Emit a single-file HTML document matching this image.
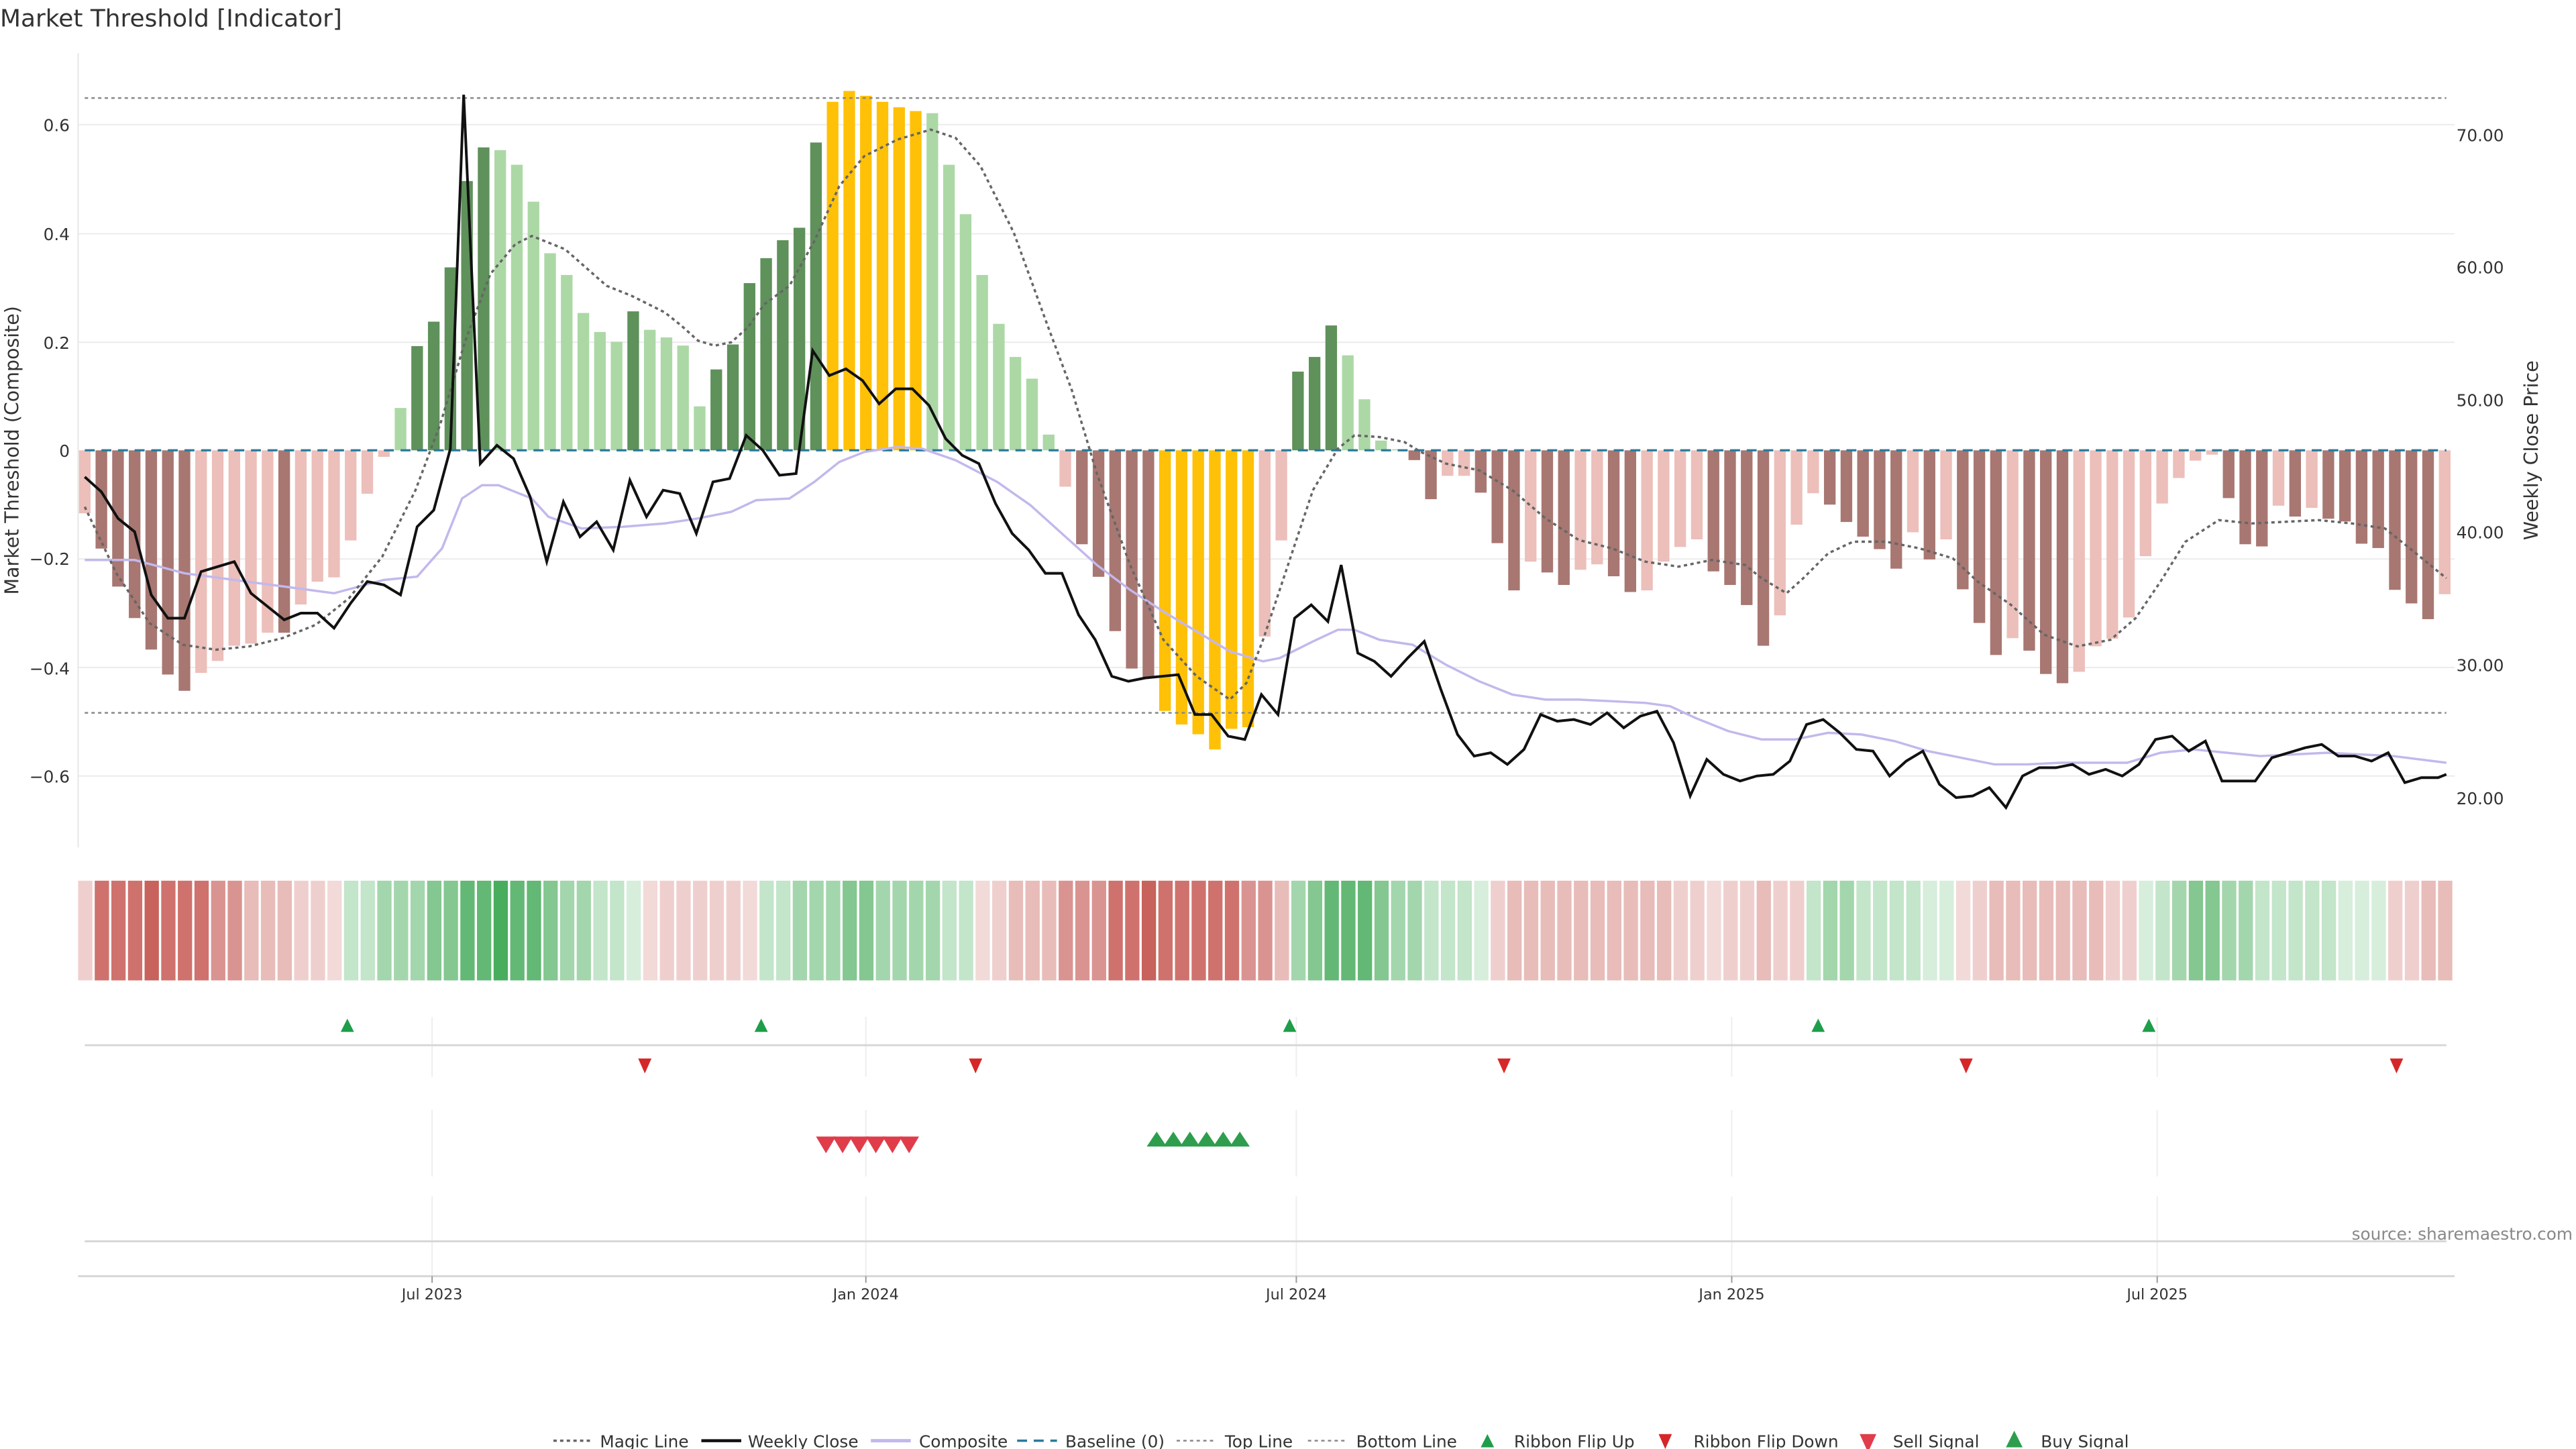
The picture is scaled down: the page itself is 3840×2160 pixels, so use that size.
<!DOCTYPE html>
<html><head><meta charset="utf-8"><style>
html,body{margin:0;padding:0;background:#fff;}
svg{display:block;font-family:"DejaVu Sans","Liberation Sans",sans-serif;}
</style></head><body>
<svg id="s" width="3840" height="2160" viewBox="0 0 1550 872" preserveAspectRatio="none" xmlns="http://www.w3.org/2000/svg">
<rect width="1550" height="872" fill="#fff"/>
<text x="0" y="16" font-size="14.5" fill="#333">Market Threshold [Indicator]</text>
<g id="grid" stroke="#ececec" stroke-width="0.8">
<line x1="47" x2="1477" y1="75" y2="75"/><line x1="47" x2="1477" y1="140.7" y2="140.7"/>
<line x1="47" x2="1477" y1="206" y2="206"/><line x1="47" x2="1477" y1="336.4" y2="336.4"/>
<line x1="47" x2="1477" y1="401.7" y2="401.7"/><line x1="47" x2="1477" y1="467" y2="467"/>
</g>
<line x1="47" x2="47" y1="32" y2="510" stroke="#e6e6e6" stroke-width="0.8"/>
<g font-size="10" fill="#333" text-anchor="end">
<text x="42" y="79">0.6</text><text x="42" y="144.5">0.4</text><text x="42" y="210">0.2</text>
<text x="42" y="275">0</text><text x="42" y="340">−0.2</text><text x="42" y="406">−0.4</text><text x="42" y="471">−0.6</text>
</g>
<g font-size="10" fill="#333">
<text x="1478" y="85">70.00</text><text x="1478" y="164.5">60.00</text><text x="1478" y="244.5">50.00</text>
<text x="1478" y="324">40.00</text><text x="1478" y="404">30.00</text><text x="1478" y="484">20.00</text>
</g>
<text transform="translate(11,271) rotate(-90)" font-size="11.5" fill="#333" text-anchor="middle">Market Threshold (Composite)</text>
<text transform="translate(1527,271) rotate(-90)" font-size="11.5" fill="#333" text-anchor="middle">Weekly Close Price</text>
<g id="bars"></g>
<line x1="51" x2="1472" y1="59" y2="59" stroke="#888" stroke-width="1" stroke-dasharray="2,2"/>
<line x1="51" x2="1472" y1="429" y2="429" stroke="#888" stroke-width="1" stroke-dasharray="2,2"/>
<line x1="51" x2="1472" y1="271" y2="271" stroke="#2b7a99" stroke-width="1.3" stroke-dasharray="6,4"/>
<polyline id="comp" fill="none" stroke="#c3b8ec" stroke-width="1.4"/>
<polyline id="magic" fill="none" stroke="#666" stroke-width="1.4" stroke-dasharray="2,2"/>
<polyline id="close" fill="none" stroke="#111" stroke-width="1.6"/>
<g id="rib"></g>
<g stroke="#eee" stroke-width="0.8">
<line x1="260" x2="260" y1="612" y2="648"/><line x1="521" x2="521" y1="612" y2="648"/><line x1="780" x2="780" y1="612" y2="648"/><line x1="1042" x2="1042" y1="612" y2="648"/><line x1="1298" x2="1298" y1="612" y2="648"/>
<line x1="260" x2="260" y1="668" y2="708"/><line x1="521" x2="521" y1="668" y2="708"/><line x1="780" x2="780" y1="668" y2="708"/><line x1="1042" x2="1042" y1="668" y2="708"/><line x1="1298" x2="1298" y1="668" y2="708"/>
<line x1="260" x2="260" y1="720" y2="768"/><line x1="521" x2="521" y1="720" y2="768"/><line x1="780" x2="780" y1="720" y2="768"/><line x1="1042" x2="1042" y1="720" y2="768"/><line x1="1298" x2="1298" y1="720" y2="768"/>
</g>
<line x1="51" x2="1472" y1="629" y2="629" stroke="#d6d6d6" stroke-width="1.2"/>
<line x1="51" x2="1472" y1="747" y2="747" stroke="#d6d6d6" stroke-width="1.2"/>
<line x1="47" x2="1477" y1="768" y2="768" stroke="#d6d6d6" stroke-width="1.2"/>
<g stroke="#999" stroke-width="0.8">
<line x1="260" x2="260" y1="768" y2="772"/><line x1="521" x2="521" y1="768" y2="772"/><line x1="780" x2="780" y1="768" y2="772"/><line x1="1042" x2="1042" y1="768" y2="772"/><line x1="1298" x2="1298" y1="768" y2="772"/></g>
<g font-size="9" fill="#333" text-anchor="middle">
<text x="260" y="782">Jul 2023</text><text x="521" y="782">Jan 2024</text><text x="780" y="782">Jul 2024</text><text x="1042" y="782">Jan 2025</text><text x="1298" y="782">Jul 2025</text></g>
<g id="sig"></g>
<text x="1548" y="746" font-size="10" fill="#888" text-anchor="end">source: sharemaestro.com</text>
<g font-size="10" fill="#333">
<line x1="333" x2="357" y1="867" y2="867" stroke="#666" stroke-width="1.4" stroke-dasharray="2,2"/><text x="361" y="871">Magic Line</text>
<line x1="422" x2="446" y1="867" y2="867" stroke="#111" stroke-width="1.8"/><text x="450" y="871">Weekly Close</text>
<line x1="524" x2="548" y1="867" y2="867" stroke="#c3b8ec" stroke-width="2"/><text x="553" y="871">Composite</text>
<line x1="612" x2="636" y1="867" y2="867" stroke="#2b7a99" stroke-width="1.4" stroke-dasharray="6,4"/><text x="641" y="871">Baseline (0)</text>
<line x1="708" x2="732" y1="867" y2="867" stroke="#888" stroke-width="1" stroke-dasharray="2,2"/><text x="737" y="871">Top Line</text>
<line x1="787" x2="811" y1="867" y2="867" stroke="#888" stroke-width="1" stroke-dasharray="2,2"/><text x="816" y="871">Bottom Line</text>
<polygon points="891,871 899,871 895,863" fill="#1e9e4a"/><text x="911" y="871">Ribbon Flip Up</text>
<polygon points="998,863 1006,863 1002,872" fill="#d62728"/><text x="1019" y="871">Ribbon Flip Down</text>
<polygon points="1119,863 1129,863 1124,874" fill="#e03c4a"/><text x="1139" y="871">Sell Signal</text>
<polygon points="1207,871 1217,871 1212,861" fill="#2e9e4e"/><text x="1228" y="871">Buy Signal</text>
</g>
</svg>
<script>
var NS="http://www.w3.org/2000/svg";
function el(p,t,a){var e=document.createElementNS(NS,t);for(var k in a)e.setAttribute(k,a[k]);p.appendChild(e);return e;}
var B="L-0.116 D-0.181 D-0.251 D-0.309 D-0.367 D-0.413 D-0.443 L-0.41 L-0.388 L-0.36 L-0.356 L-0.336 D-0.336 L-0.284 L-0.242 L-0.234 L-0.166 L-0.08 L-0.012 g0.078 G0.192 G0.237 G0.337 G0.496 G0.558 g0.553 g0.526 g0.458 g0.363 g0.323 g0.253 g0.218 g0.2 G0.256 g0.222 g0.208 g0.193 g0.081 G0.149 G0.195 G0.308 G0.354 G0.387 G0.41 G0.567 Y0.642 Y0.662 Y0.653 Y0.642 Y0.632 Y0.625 g0.621 g0.526 g0.435 g0.323 g0.233 g0.172 g0.132 g0.029 L-0.067 D-0.173 D-0.233 D-0.333 D-0.402 D-0.418 Y-0.48 Y-0.505 Y-0.523 Y-0.551 Y-0.513 Y-0.51 L-0.343 L-0.166 G0.145 G0.172 G0.23 g0.175 g0.094 g0.018 g0.002 D-0.018 D-0.09 L-0.047 L-0.047 D-0.078 D-0.171 D-0.258 L-0.205 D-0.225 D-0.248 L-0.22 L-0.21 D-0.232 D-0.261 L-0.258 L-0.205 L-0.178 L-0.164 D-0.223 D-0.248 D-0.285 D-0.36 L-0.304 L-0.137 L-0.079 D-0.1 D-0.132 D-0.159 D-0.182 D-0.218 L-0.151 D-0.201 L-0.164 D-0.256 D-0.318 D-0.377 L-0.346 D-0.369 D-0.412 D-0.429 L-0.408 L-0.361 L-0.347 L-0.308 L-0.195 L-0.098 L-0.051 L-0.019 L-0.008 D-0.088 D-0.173 D-0.177 L-0.102 D-0.122 L-0.106 D-0.126 D-0.131 D-0.172 D-0.18 D-0.257 D-0.282 D-0.311 L-0.265".split(" ");
var C={L:"#ecbfba",D:"#a87772",g:"#acd8a6",G:"#5f915b",Y:"#ffc107"};
var bars=document.getElementById("bars");
B.forEach(function(s,i){var c=s[0],v=parseFloat(s.slice(1));var x=51+10*i-3.5;var y0=271,y1=271-v*326.7;
el(bars,"rect",{x:x,y:Math.min(y0,y1),width:7,height:Math.max(0.3,Math.abs(y1-y0)),fill:C[c]});});
var R="r1 r4 r4 r4 r5 r4 r4 r4 r3 r3 r2 r2 r2 r1 r1 r0 g1 g1 g2 g2 g2 g3 g3 g4 g4 g5 g4 g4 g3 g2 g2 g1 g1 g0 r0 r1 r1 r1 r1 r1 r0 g1 g1 g2 g2 g2 g3 g3 g2 g2 g2 g2 g1 g1 r0 r1 r2 r2 r2 r3 r3 r3 r4 r4 r5 r4 r4 r4 r4 r4 r3 r3 r2 g2 g3 g4 g4 g4 g3 g2 g2 g1 g1 g1 g0 r1 r2 r2 r2 r2 r2 r2 r2 r2 r2 r2 r1 r1 r0 r1 r1 r2 r1 r1 g1 g2 g2 g1 g1 g1 g1 g0 g0 r0 r1 r2 r2 r2 r2 r2 r2 r2 r1 r1 g0 g1 g2 g3 g3 g2 g2 g1 g1 g1 g1 g1 g0 g0 g0 r1 r1 r2 r2".split(" ");
var RC={r0:"#f2dad9",r1:"#efcfcd",r2:"#e8bcb9",r3:"#d99491",r4:"#cf726d",r5:"#c8625c",g0:"#d6eedb",g1:"#c3e5ca",g2:"#a3d6ac",g3:"#84c791",g4:"#62b874",g5:"#49ad5e"};
var rib=document.getElementById("rib");
for(var i=0;i<143;i++){el(rib,"rect",{x:47+10*i,y:530,width:8.6,height:60,fill:RC[R[i]]||"#eee"});}
function pl(id,s){document.getElementById(id).setAttribute("points",s);}
pl("close","51,287 61,296 71,312 81,320 91,358 101,372 111,372 121,344 131,341 141,338 151,357 161,365 171,373 181,369 191,369 201,378 211,363 221,350 231,352 241,358 251,317 261,307 271,270 279,57 289,279 299,268 309,276 319,299 329,338 339,302 349,323 359,314 369,331 379,289 389,311 399,295 409,297 419,321 429,290 439,288 449,262 459,271 469,286 479,285 489,211 499,226 509,222 519,229 529,243 539,234 549,234 559,244 569,264 579,274 589,279 599,303 609,321 619,331 629,345 639,345 649,370 659,385 669,407 679,410 689,408 699,407 709,406 719,430 729,430 739,443 749,445 759,418 769,430 779,372 789,364 799,374 807,340 817,393 827,398 837,407 847,396 857,386 867,415 877,442 887,455 897,453 907,460 917,451 927,430 937,434 947,433 957,436 967,429 977,438 987,431 997,428 1007,447 1017,479 1027,457 1037,466 1047,470 1057,467 1067,466 1077,458 1087,436 1097,433 1107,441 1117,451 1127,452 1137,467 1147,458 1157,452 1167,472 1177,480 1187,479 1197,474 1207,486 1217,467 1227,462 1237,462 1247,460 1257,466 1267,463 1277,467 1287,460 1297,445 1307,443 1317,452 1327,446 1337,470 1347,470 1357,470 1367,456 1377,453 1387,450 1397,448 1407,455 1417,455 1427,458 1437,453 1447,471 1457,468 1467,468 1472,466");
pl("comp","51,337 81,337 111,345 141,349 171,353 201,357 231,349 251,347 266,330 278,300 290,292 300,292 320,300 330,311 350,318 375,317 400,315 420,312 440,308 455,301 475,300 490,290 505,278 520,272 540,269 555,270 575,277 600,290 620,304 640,322 660,340 680,355 700,368 720,380 740,392 760,398 770,396 790,386 805,379 815,379 830,385 850,388 870,400 890,410 910,418 930,421 950,421 970,422 990,423 1005,425 1020,432 1040,440 1060,445 1080,445 1100,441 1120,442 1140,446 1160,452 1180,456 1200,460 1220,460 1240,459 1260,459 1280,459 1300,453 1320,451 1340,453 1360,455 1380,454 1400,453 1420,454 1440,455 1472,459");
pl("magic","51,305 70,345 90,375 110,388 130,391 150,389 170,384 190,376 210,360 230,335 250,295 265,255 280,205 295,165 310,147 320,142 340,150 365,172 380,178 400,188 410,196 420,205 430,208 440,206 450,197 460,183 475,172 490,145 505,112 520,94 540,84 560,78 575,83 590,100 610,140 630,195 645,235 660,285 680,340 700,385 720,407 740,421 750,411 760,385 775,340 790,295 805,270 815,262 830,263 845,266 855,272 870,279 890,283 910,295 930,312 950,325 970,330 990,338 1010,341 1030,337 1050,340 1060,348 1075,357 1085,348 1100,333 1115,326 1135,326 1155,330 1175,336 1190,350 1210,364 1230,382 1250,389 1270,385 1285,372 1300,350 1315,326 1335,313 1355,315 1375,314 1395,313 1415,315 1435,318 1450,330 1472,348");
var sig=document.getElementById("sig");
[209,458,776,1094,1293].forEach(function(x){el(sig,"polygon",{points:(x-4)+",621 "+(x+4)+",621 "+x+",613",fill:"#1e9e4a"});});
[388,587,905,1183,1442].forEach(function(x){el(sig,"polygon",{points:(x-4)+",637 "+(x+4)+",637 "+x+",646",fill:"#d62728"});});
[497,507,517,527,537,547].forEach(function(x){el(sig,"polygon",{points:(x-6)+",684 "+(x+6)+",684 "+x+",694",fill:"#e03c4a"});});
[696,706,716,726,736,746].forEach(function(x){el(sig,"polygon",{points:(x-6)+",690 "+(x+6)+",690 "+x+",681",fill:"#2e9e4e"});});
</script>
</body></html>
